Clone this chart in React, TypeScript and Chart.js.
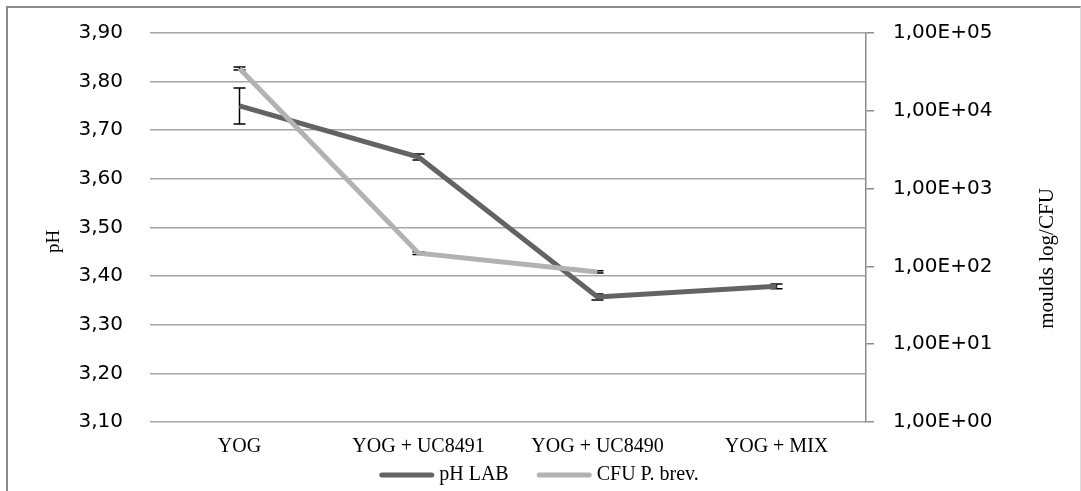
import React, { useEffect, useRef } from "react";
import { Chart, registerables } from "chart.js";

Chart.register(...registerables);

const CATEGORIES = ["YOG", "YOG + UC8491", "YOG + UC8490", "YOG + MIX"];
const PH_LAB = [3.75, 3.645, 3.357, 3.379];
const PH_LAB_ERR = [0.037, 0.006, 0.006, 0.005];
const CFU_P_BREV = [35000, 148, 85, null];
const CFU_P_BREV_ERR = [1500, 6, 3, null];
const PH_TICKS = [3.1, 3.2, 3.3, 3.4, 3.5, 3.6, 3.7, 3.8, 3.9];
const CFU_TICKS = [1, 10, 100, 1000, 10000, 100000];
const LEFT_TITLE = "pH";
const RIGHT_TITLE = "moulds log/CFU";
const SERIES_NAMES = ["pH LAB", "CFU P. brev."];

const SERIF = "'Liberation Serif', 'Times New Roman', serif";
const SANS = "'DejaVu Sans', sans-serif";

const errorBarPlugin = {
  id: "errorBars",
  beforeDatasetsDraw(chart: any) {
    const ctx = chart.ctx;
    const xScale = chart.scales.x;
    const sets = [
      { data: PH_LAB, err: PH_LAB_ERR, scale: chart.scales.y },
      { data: CFU_P_BREV, err: CFU_P_BREV_ERR, scale: chart.scales.y1 },
    ];
    ctx.save();
    ctx.strokeStyle = "#000";
    ctx.lineWidth = 1.5;
    sets.forEach((s) => {
      s.data.forEach((v: any, i: number) => {
        const e = s.err[i];
        if (v == null || e == null) return;
        const x = xScale.getPixelForValue(i);
        const y1 = s.scale.getPixelForValue(v - e);
        const y2 = s.scale.getPixelForValue(v + e);
        ctx.beginPath();
        ctx.moveTo(x, y1);
        ctx.lineTo(x, y2);
        ctx.moveTo(x - 6, y1);
        ctx.lineTo(x + 6, y1);
        ctx.moveTo(x - 6, y2);
        ctx.lineTo(x + 6, y2);
        ctx.stroke();
      });
    });
    ctx.restore();
  },
};

const titlesPlugin = {
  id: "axisTitles",
  afterDraw(chart: any) {
    const ctx = chart.ctx;
    const area = chart.chartArea;
    const mid = (area.top + area.bottom) / 2;
    ctx.save();
    ctx.fillStyle = "#000";
    ctx.textAlign = "center";
    ctx.textBaseline = "middle";
    ctx.font = `19px ${SERIF}`;
    ctx.save();
    ctx.translate(area.left - 96, mid + 14);
    ctx.rotate(-Math.PI / 2);
    ctx.fillText(LEFT_TITLE, 0, 0);
    ctx.restore();
    ctx.font = `21px ${SERIF}`;
    ctx.save();
    ctx.translate(area.right + 181, mid + 31);
    ctx.rotate(-Math.PI / 2);
    ctx.fillText(RIGHT_TITLE, 0, 0);
    ctx.restore();

    // legend
    ctx.font = `20px ${SERIF}`;
    ctx.textAlign = "left";
    const boxW = 55;
    const gapText = 5;
    const gapItem = 28;
    const sets = chart.data.datasets;
    const widths = sets.map((d: any) => boxW + gapText + ctx.measureText(d.label).width);
    const total = widths.reduce((a: number, b: number) => a + b, 0) + gapItem * (sets.length - 1);
    let x = chart.width / 2 - 5 - total / 2;
    const y = 467;
    sets.forEach((d: any, i: number) => {
      ctx.strokeStyle = d.borderColor;
      ctx.lineWidth = 5;
      ctx.lineCap = "round";
      ctx.beginPath();
      ctx.moveTo(x + 2.5, y);
      ctx.lineTo(x + boxW - 2.5, y);
      ctx.stroke();
      ctx.fillText(d.label, x + boxW + gapText, y);
      x += widths[i] + gapItem;
    });
    ctx.restore();
  },
};

export default function App() {
  const ref = useRef<HTMLCanvasElement>(null);
  useEffect(() => {
    document.body.style.overflow = "hidden";
    const fixPad = (s: any) => {
      s.paddingTop = 12;
      s.paddingBottom = 12;
    };
    const chart = new Chart(ref.current as HTMLCanvasElement, {
      type: "line",
      data: {
        labels: CATEGORIES,
        datasets: [
          {
            label: SERIES_NAMES[0],
            data: PH_LAB,
            yAxisID: "y",
            borderColor: "#636363",
            backgroundColor: "#636363",
            borderWidth: 5,
            pointRadius: 0,
            order: 2,
          },
          {
            label: SERIES_NAMES[1],
            data: CFU_P_BREV as any,
            yAxisID: "y1",
            borderColor: "#b2b2b2",
            backgroundColor: "#b2b2b2",
            borderWidth: 5,
            pointRadius: 0,
            order: 1,
          },
        ],
      },
      options: {
        animation: false,
        responsive: false,
        devicePixelRatio: 1,
        layout: { padding: { left: 0, right: 0, top: 25, bottom: 0 } },
        plugins: {
          tooltip: { enabled: false },
          legend: { display: false },
        },
        scales: {
          x: {
            type: "category",
            offset: true,
            grid: { display: false },
            border: { display: false },
            ticks: {
              color: "#000",
              padding: 5,
              maxRotation: 0,
              font: { family: SERIF, size: 20 },
            },
            afterFit: (s: any) => {
              s.height = 69;
            },
          },
          y: {
            position: "left",
            min: 3.1,
            max: 3.9,
            grid: { color: "#a6a6a6", lineWidth: 1.5, drawTicks: false },
            border: { display: false },
            ticks: {
              color: "#000",
              padding: 27,
              font: { family: SANS, size: 20 },
              callback: (v: any) => Number(v).toFixed(2).replace(".", ","),
            },
            afterBuildTicks: (s: any) => {
              s.ticks = PH_TICKS.map((v) => ({ value: v }));
            },
            afterFit: (s: any) => {
              s.width = 142;
              fixPad(s);
            },
          },
          y1: {
            position: "right",
            type: "logarithmic",
            min: 1,
            max: 100000,
            grid: {
              drawOnChartArea: false,
              drawTicks: true,
              tickLength: 8,
              color: "#8c8c8c",
              lineWidth: 1.5,
            },
            border: { display: true, color: "#8c8c8c", width: 1.5 },
            ticks: {
              color: "#000",
              padding: 19,
              font: { family: SANS, size: 20 },
              callback: (v: any) => {
                const e = Math.round(Math.log10(Number(v)));
                return "1,00E+" + String(e).padStart(2, "0");
              },
            },
            afterBuildTicks: (s: any) => {
              s.ticks = CFU_TICKS.map((v) => ({ value: v }));
            },
            afterFit: (s: any) => {
              s.width = 214;
              fixPad(s);
            },
          },
        },
      },
      plugins: [errorBarPlugin, titlesPlugin],
    });
    return () => chart.destroy();
  }, []);

  return (
    <div
      style={{
        position: "absolute",
        left: 6,
        top: 6,
        width: 1075,
        height: 485,
        boxSizing: "border-box",
        borderTop: "2px solid #8a8a8a",
        borderLeft: "2px solid #8a8a8a",
        borderRight: "1px solid #dcdcdc",
        background: "#fff",
      }}
    >
      <canvas ref={ref} width={1072} height={483} style={{ display: "block", width: 1072, height: 483 }} />
    </div>
  );
}
